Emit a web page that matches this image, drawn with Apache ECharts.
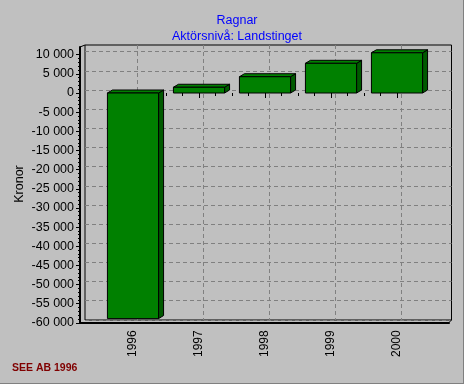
<!DOCTYPE html>
<html>
<head>
<meta charset="utf-8">
<script src="https://cdn.jsdelivr.net/npm/echarts@6/dist/echarts.min.js"></script>
<style>
html,body{margin:0;padding:0;background:#C0C0C0;}
#c{width:464px;height:384px;}
</style>
</head>
<body>
<div id="c"></div>
<script>
// ---- data ----
const years = [1996, 1997, 1998, 1999, 2000];
const values = [-58900, 1500, 4250, 7750, 10500];
const titleLines = ['Ragnar', 'Aktörsnivå: Landstinget'];
const yAxisName = 'Kronor';
const footer = 'SEE AB 1996';
const yTickValues = [10000, 5000, 0, -5000, -10000, -15000, -20000, -25000, -30000, -35000, -40000, -45000, -50000, -55000, -60000];
const yTickLabels = ['10 000', '5 000', '0', '-5 000', '-10 000', '-15 000', '-20 000', '-25 000', '-30 000', '-35 000', '-40 000', '-45 000', '-50 000', '-55 000', '-60 000'];

const FONT = 'Liberation Sans, Arial, sans-serif';
const yMin = -60000, yMax = 10000, yStep = 5000;
const xMin = years[0], xMax = years[years.length - 1];
const DX = 5, DY = -3;

const chart = echarts.init(document.getElementById('c'), null, {renderer: 'canvas'});

const hidden = {show: false};
function hiddenX(i, min, max) {
  return {gridIndex: i, type: 'value', min: min, max: max, show: false, splitLine: hidden};
}
function hiddenY(i, min, max) {
  return {gridIndex: i, type: 'value', min: min, max: max, show: false, splitLine: hidden};
}

const option = {
  backgroundColor: '#C0C0C0',
  animation: false,
  title: {
    text: titleLines.join('\n'),
    left: 232, top: 7.5, textAlign: 'center',
    textStyle: {color: '#0000FF', fontSize: 12.5, fontWeight: 'normal', fontFamily: FONT, lineHeight: 16}
  },
  grid: [
    // 0: back wall border
    {left: 85, right: 12.5, top: 45, bottom: 64, show: true, borderColor: '#000', borderWidth: 1, backgroundColor: 'transparent'},
    // 1: back wall vertical grid lines
    {left: 137.5, right: 62.5, top: 45, bottom: 64},
    // 2: back wall horizontal grid lines
    {left: 85, right: 12.5, top: 51.7, bottom: 64.2},
    // 3: front y scale (labels/ticks)
    {left: 80, right: 15, top: 54.7, bottom: 61.2},
    // 4: bars and x scale
    {left: 133, right: 67, top: 54.7, bottom: 61.2},
    // 5: front frame axis lines
    {left: 80, right: 15, top: 47, bottom: 61.5}
  ],
  xAxis: [
    hiddenX(0, 0, 1),
    {gridIndex: 1, type: 'value', min: xMin, max: xMax, interval: 1,
      axisLine: hidden, axisTick: hidden, axisLabel: hidden,
      splitLine: {show: true, lineStyle: {color: '#808080', type: [4, 3], width: 1}}},
    hiddenX(2, 0, 1),
    hiddenX(3, 0, 1),
    {gridIndex: 4, type: 'value', min: xMin, max: xMax, interval: 1,
      axisLine: {show: false},
      axisTick: {show: true, length: 5, lineStyle: {color: '#000', width: 1}},
      minorTick: {show: true, splitNumber: 4, length: 3, lineStyle: {color: '#000', width: 1}},
      splitLine: hidden,
      axisLabel: {rotate: 90, margin: 7.5, color: '#000', fontSize: 12, fontFamily: FONT,
        formatter: function (v) { const i = years.indexOf(v); return i >= 0 ? String(years[i]) : ''; }}},
    {gridIndex: 5, type: 'value', min: 0, max: 1,
      axisLine: {show: true, onZero: false, lineStyle: {color: '#000', width: 2}},
      axisTick: hidden, axisLabel: hidden, splitLine: hidden}
  ],
  yAxis: [
    hiddenY(0, 0, 1),
    hiddenY(1, 0, 1),
    {gridIndex: 2, type: 'value', min: yMin, max: yMax, interval: yStep,
      axisLine: hidden, axisTick: hidden, axisLabel: hidden,
      splitLine: {show: true, lineStyle: {color: '#808080', type: [4, 3], width: 1}}},
    {gridIndex: 3, type: 'value', min: yMin, max: yMax, interval: yStep,
      axisLine: {show: false},
      axisTick: {show: true, length: 4, lineStyle: {color: '#000', width: 1}},
      minorTick: {show: true, splitNumber: 5, length: 2, lineStyle: {color: '#000', width: 1}},
      splitLine: hidden,
      axisLabel: {margin: 6, color: '#000', fontSize: 12.5, fontFamily: FONT,
        formatter: function (v) { const i = yTickValues.indexOf(v); return i >= 0 ? yTickLabels[i] : ''; }}},
    hiddenY(4, yMin, yMax),
    {gridIndex: 5, type: 'value', min: 0, max: 1,
      axisLine: {show: true, onZero: false, lineStyle: {color: '#000', width: 2}},
      axisTick: hidden, axisLabel: hidden, splitLine: hidden}
  ],
  series: [{
    type: 'custom',
    xAxisIndex: 4, yAxisIndex: 4,
    clip: false,
    data: years.map(function (y, i) { return [y, values[i]]; }),
    renderItem: function (params, api) {
      const x = api.value(0), v = api.value(1);
      const p0 = api.coord([x, 0]);
      const p1 = api.coord([x, v]);
      const w = api.size([1, 0])[0] * 0.775;
      const l = p0[0] - w / 2, r = p0[0] + w / 2;
      const t = Math.min(p0[1], p1[1]), b = Math.max(p0[1], p1[1]);
      const stroke = {stroke: '#000', lineWidth: 1};
      return {
        type: 'group',
        children: [
          {type: 'polygon', shape: {points: [[r, t], [r + DX, t + DY], [r + DX, b + DY], [r, b]]},
            style: Object.assign({fill: '#005A00'}, stroke)},
          {type: 'polygon', shape: {points: [[l, t], [l + DX, t + DY], [r + DX, t + DY], [r, t]]},
            style: Object.assign({fill: '#008000'}, stroke)},
          {type: 'rect', shape: {x: l, y: t, width: w, height: b - t},
            style: Object.assign({fill: '#008000'}, stroke)}
        ]
      };
    }
  }],
  graphic: [
    {type: 'line', shape: {x1: 80, y1: 47, x2: 85, y2: 45}, style: {stroke: '#000', lineWidth: 1}, z: 10},
    {type: 'line', shape: {x1: 449, y1: 322.5, x2: 451.5, y2: 320}, style: {stroke: '#000', lineWidth: 1}, z: 10},
    {type: 'text', x: 20, y: 184, rotation: Math.PI / 2,
      style: {text: yAxisName, fill: '#000', fontSize: 12.5, fontFamily: FONT, align: 'center', verticalAlign: 'middle'}},
    {type: 'text', x: 12, y: 368,
      style: {text: footer, fill: '#800000', fontSize: 10.5, fontWeight: 'bold', fontFamily: FONT, align: 'left', verticalAlign: 'middle'}},
    {type: 'line', shape: {x1: 463.5, y1: 0, x2: 463.5, y2: 384}, style: {stroke: '#808080', lineWidth: 1}},
    {type: 'line', shape: {x1: 0, y1: 383.5, x2: 464, y2: 383.5}, style: {stroke: '#808080', lineWidth: 1}}
  ]
};
chart.setOption(option);
</script>
</body>
</html>
